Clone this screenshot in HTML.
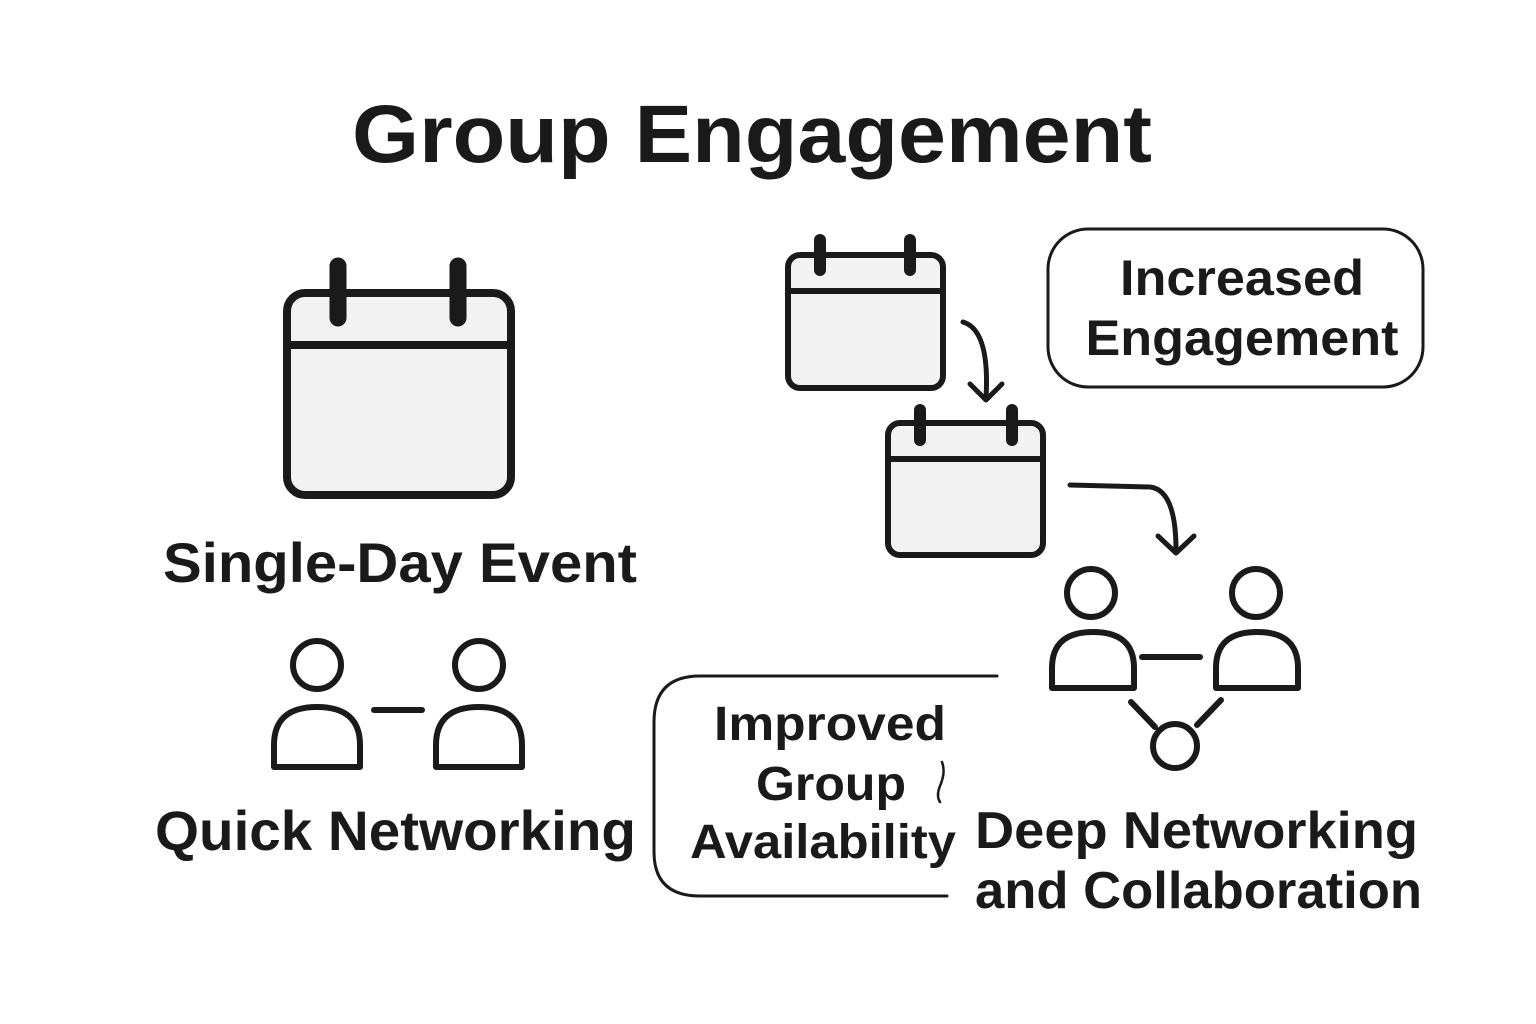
<!DOCTYPE html>
<html><head><meta charset="utf-8"><style>
html,body{margin:0;padding:0;background:#fff;}
svg{display:block;}
text{font-family:"Liberation Sans",sans-serif;font-weight:bold;fill:#1a1a1a;}
</style></head><body>
<svg width="1536" height="1024" viewBox="0 0 1536 1024" xmlns="http://www.w3.org/2000/svg">
<rect width="1536" height="1024" fill="#fff"/>
<text x="352" y="162" font-size="82" textLength="800" lengthAdjust="spacingAndGlyphs">Group Engagement</text>

<g stroke="#1a1a1a" stroke-linecap="round" stroke-linejoin="round" fill="none">
  <!-- big calendar -->
  <rect x="287" y="293" width="224" height="202" rx="18" fill="#f2f2f2" stroke-width="8"/>
  <line x1="287" y1="345" x2="511" y2="345" stroke-width="8"/>
  <line x1="338" y1="266" x2="338" y2="318" stroke-width="17"/>
  <line x1="458" y1="266" x2="458" y2="318" stroke-width="17"/>

  <!-- small cal 1 -->
  <rect x="788" y="255" width="155" height="133" rx="12" fill="#f2f2f2" stroke-width="6"/>
  <line x1="788" y1="291" x2="943" y2="291" stroke-width="6"/>
  <line x1="820" y1="240" x2="820" y2="270" stroke-width="12"/>
  <line x1="910" y1="240" x2="910" y2="270" stroke-width="12"/>
  <!-- arrow 1 -->
  <path d="M963 322 Q990 330 986 398" stroke-width="5"/>
  <path d="M970 384 L986 400 L1002 384" stroke-width="5"/>

  <!-- small cal 2 -->
  <rect x="888" y="423" width="155" height="132" rx="12" fill="#f2f2f2" stroke-width="6"/>
  <line x1="888" y1="459" x2="1043" y2="459" stroke-width="6"/>
  <line x1="920" y1="410" x2="920" y2="440" stroke-width="12"/>
  <line x1="1012" y1="410" x2="1012" y2="440" stroke-width="12"/>
  <!-- arrow 2 -->
  <path d="M1070 485 L1150 487 Q1176 490 1176 550" stroke-width="5"/>
  <path d="M1158 536 L1176 553 L1194 536" stroke-width="5"/>

  <!-- increased box -->
  <rect x="1048" y="229" width="375" height="158" rx="40" stroke-width="3"/>

  <!-- improved box -->
  <path d="M997 676 L700 676 Q654 676 654 722 L654 852 Q654 896 700 896 L947 896" stroke-width="3"/>
  <path d="M942 762 Q946 772 940 786 Q936 796 940 802" stroke-width="2.5"/>

  <!-- quick networking people -->
  <circle cx="317" cy="665" r="24" stroke-width="6"/>
  <path d="M274 767 L274 745 Q274 707 317 707 Q360 707 360 745 L360 767 Z" stroke-width="6"/>
  <circle cx="479" cy="665" r="24" stroke-width="6"/>
  <path d="M436 767 L436 745 Q436 707 479 707 Q522 707 522 745 L522 767 Z" stroke-width="6"/>
  <line x1="374" y1="710" x2="422" y2="710" stroke-width="6"/>

  <!-- deep networking people -->
  <circle cx="1091" cy="593" r="24" stroke-width="6"/>
  <path d="M1052 688 L1052 668 Q1052 632 1093 632 Q1134 632 1134 668 L1134 688 Z" stroke-width="6"/>
  <circle cx="1256" cy="593" r="24" stroke-width="6"/>
  <path d="M1216 688 L1216 668 Q1216 632 1257 632 Q1298 632 1298 668 L1298 688 Z" stroke-width="6"/>
  <line x1="1142" y1="657" x2="1200" y2="657" stroke-width="6"/>
  <circle cx="1175" cy="746" r="22" stroke-width="6"/>
  <line x1="1131" y1="702" x2="1155" y2="727" stroke-width="6"/>
  <line x1="1221" y1="700" x2="1197" y2="725" stroke-width="6"/>
</g>

<text x="163" y="582" font-size="56" textLength="474" lengthAdjust="spacingAndGlyphs">Single-Day Event</text>
<text x="155" y="850" font-size="56" textLength="481" lengthAdjust="spacingAndGlyphs">Quick Networking</text>
<text x="1242" y="295" font-size="50" text-anchor="middle" textLength="244" lengthAdjust="spacingAndGlyphs">Increased</text>
<text x="1242" y="355" font-size="50" text-anchor="middle" textLength="313" lengthAdjust="spacingAndGlyphs">Engagement</text>
<text x="830" y="740" font-size="48" text-anchor="middle" textLength="232" lengthAdjust="spacingAndGlyphs">Improved</text>
<text x="831" y="800" font-size="48" text-anchor="middle" textLength="150" lengthAdjust="spacingAndGlyphs">Group</text>
<text x="823" y="858" font-size="48" text-anchor="middle" textLength="266" lengthAdjust="spacingAndGlyphs">Availability</text>
<text x="975" y="848" font-size="52" textLength="443" lengthAdjust="spacingAndGlyphs">Deep Networking</text>
<text x="975" y="908" font-size="52" textLength="447" lengthAdjust="spacingAndGlyphs">and Collaboration</text>
</svg>
</body></html>
